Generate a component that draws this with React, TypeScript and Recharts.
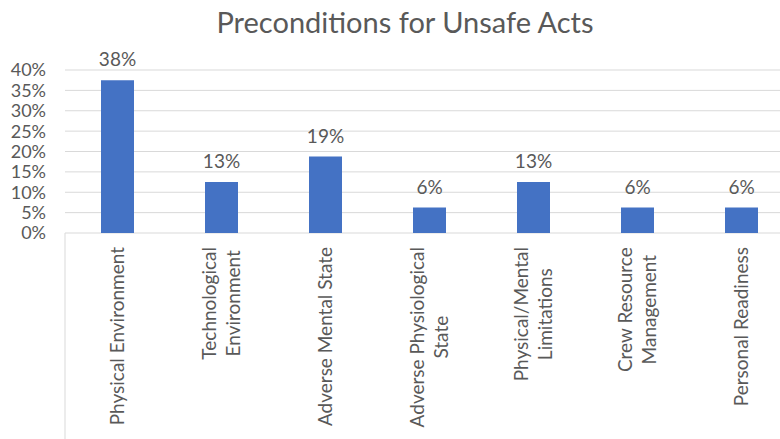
import { BarChart, Bar, XAxis, YAxis, CartesianGrid, LabelList } from 'recharts'

const CATEGORY_LABELS = [
  'Physical Environment',
  'Technological\nEnvironment',
  'Adverse Mental State',
  'Adverse Physiological\nState',
  'Physical/Mental\nLimitations',
  'Crew Resource\nManagement',
  'Personal Readiness',
]
const SHARES = [37.5, 12.5, 18.75, 6.25, 12.5, 6.25, 6.25]
const Y_TICKS = [0, 5, 10, 15, 20, 25, 30, 35, 40]

const CHART_W = 800
const CHART_H = 439
const MARGIN = { top: 70, right: 7, left: 0, bottom: 0 }
const Y_AXIS_W = 65
const X_AXIS_H = 206
const PLOT_W = CHART_W - MARGIN.left - MARGIN.right - Y_AXIS_W
const BAND = PLOT_W / CATEGORY_LABELS.length

const TEXT = '#595959'
const GRID = '#d9d9d9'
const FONT = 'Lato, "Open Sans", sans-serif'
const TICK_SIZE = 19
const LINE_H = 24

const data = CATEGORY_LABELS.map((label, i) => ({ label, value: SHARES[i] }))

let ctx: CanvasRenderingContext2D | null = null
function textWidth(s: string) {
  if (!ctx) ctx = document.createElement('canvas').getContext('2d')
  if (!ctx) return s.length * 9
  ctx.font = `${TICK_SIZE}px Lato`
  return ctx.measureText(s).width
}

function CategoryTick(props: any) {
  const { x, y, payload, index } = props
  const lines: string[] = String(payload.value).split('\n')
  const maxW = Math.max(...lines.map(textWidth))
  const edge = x - BAND / 2
  return (
    <g>
      {index === 0 && <line x1={edge} x2={edge} y1={y} y2={CHART_H} stroke={GRID} />}
      <g transform={`translate(${x},${y + 14}) rotate(-90)`}>
        {lines.map((l, i) => (
          <text
            key={i}
            x={-maxW / 2}
            y={(i - (lines.length - 1) / 2) * LINE_H}
            dy="0.35em"
            textAnchor="middle"
            fill={TEXT}
            fontSize={TICK_SIZE}
            fontFamily={FONT}
          >
            {l}
          </text>
        ))}
      </g>
    </g>
  )
}

export default function App() {
  return (
    <div style={{ position: 'fixed', left: 0, top: 0, width: 780, height: 439, overflow: 'hidden', background: '#fff' }}>
      <div
        style={{
          position: 'absolute',
          left: 0,
          top: 4,
          width: 810,
          textAlign: 'center',
          fontFamily: FONT,
          fontSize: 29,
          color: TEXT,
          lineHeight: '36px',
        }}
      >
        Preconditions for Unsafe Acts
      </div>
      <BarChart width={CHART_W} height={CHART_H} data={data} margin={MARGIN}>
        <CartesianGrid vertical={false} stroke={GRID} />
        <XAxis
          dataKey="label"
          interval={0}
          height={X_AXIS_H}
          axisLine={false}
          tickLine={false}
          tickSize={0}
          tickMargin={0}
          tick={<CategoryTick />}
        />
        <YAxis
          domain={[0, 40]}
          ticks={Y_TICKS}
          interval={0}
          width={Y_AXIS_W}
          axisLine={false}
          tickLine={false}
          tickSize={0}
          tickMargin={19}
          tickFormatter={(v: number) => `${v}%`}
          tick={{ fill: TEXT, fontSize: 18, fontFamily: FONT }}
        />
        <Bar dataKey="value" fill="#4472C4" barSize={33} isAnimationActive={false}>
          <LabelList
            dataKey="value"
            position="top"
            offset={14}
            formatter={(v: any) => `${Math.round(Number(v))}%`}
            fill={TEXT}
            fontSize={TICK_SIZE}
            fontFamily={FONT}
          />
        </Bar>
      </BarChart>
    </div>
  )
}
